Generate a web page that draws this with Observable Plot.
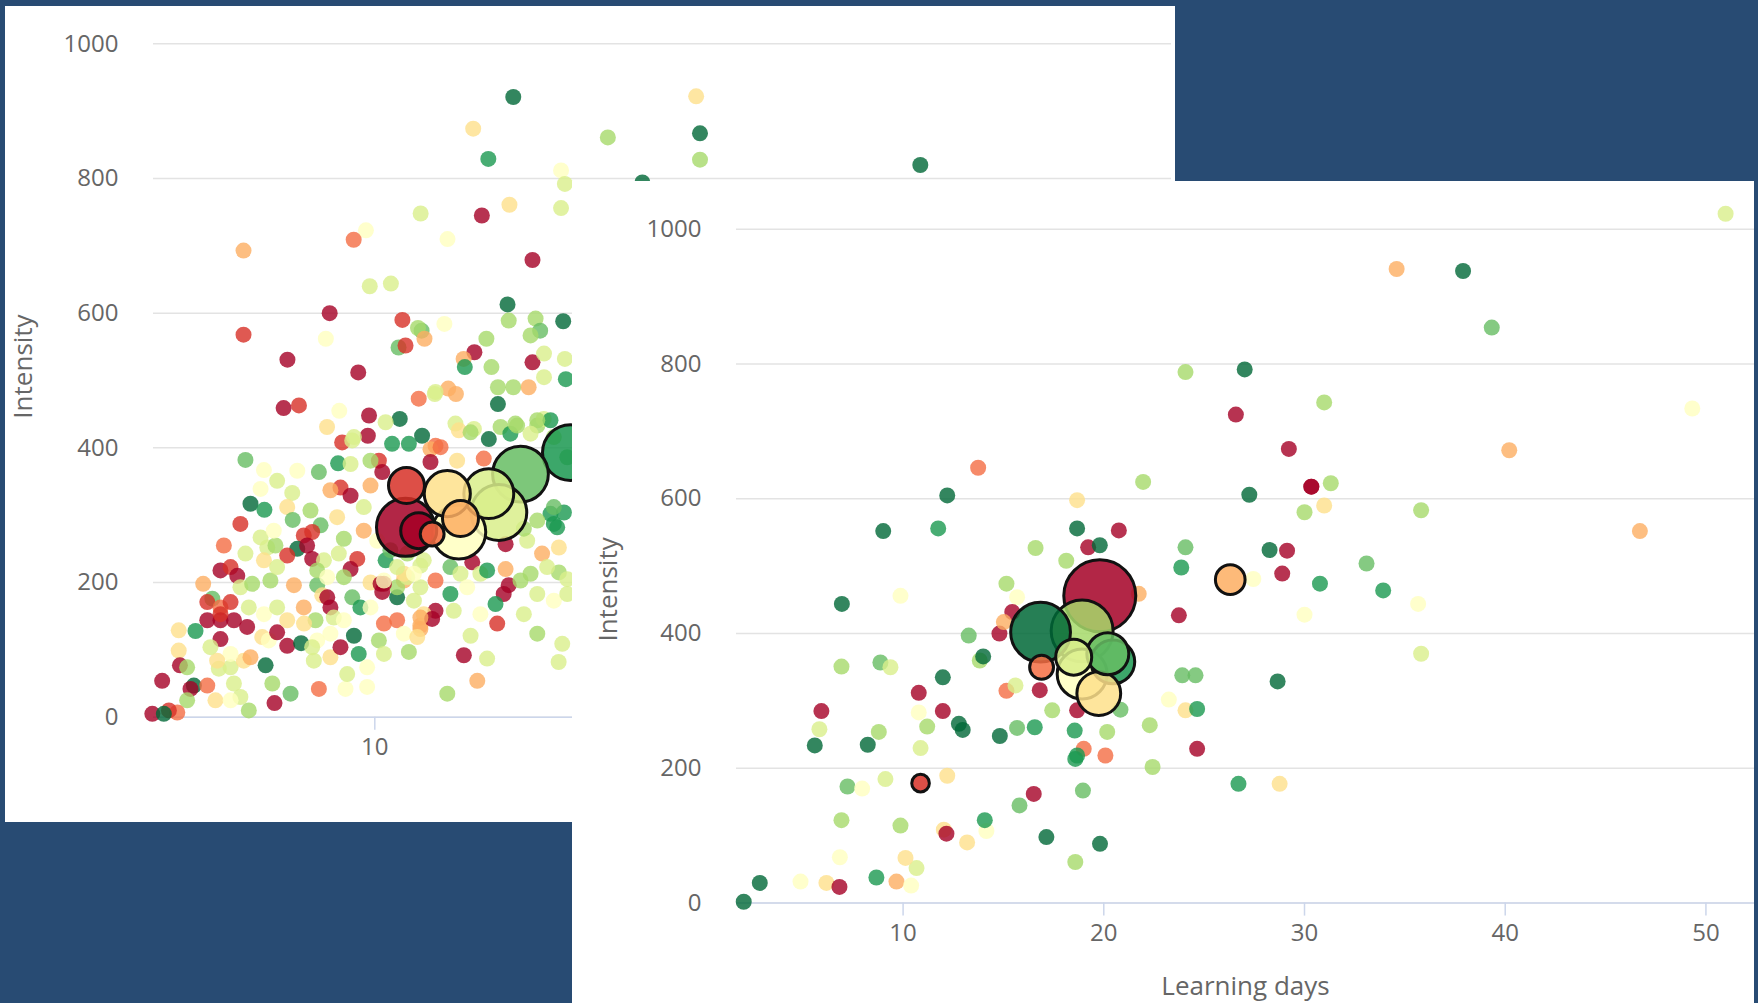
<!DOCTYPE html>
<html><head><meta charset="utf-8">
<script src="https://cdn.jsdelivr.net/npm/d3@7"></script>
<script src="https://cdn.jsdelivr.net/npm/@observablehq/plot@0.6"></script>
<style>
html,body{margin:0;padding:0;background:#284b73;width:1758px;height:1003px;overflow:hidden;}
.panel{position:absolute;background:#fff;overflow:hidden;}
#left{left:5px;top:6px;width:1170px;height:816px;}
#right{left:572px;top:181px;width:1182px;height:822px;}
.panel svg{display:block;max-width:none;}
</style></head><body>
<div id="left" class="panel"></div>
<div id="right" class="panel"></div>
<script>
// ---- shared axis values ----
const intensityTicks = [0, 200, 400, 600, 800, 1000];
const leftDayTicks = [10, 20, 30, 40];
const rightDayTicks = [10, 20, 30, 40, 50];
const scoreLevels = [0, 1, 2, 3, 4, 5, 6, 7, 8, 9, 10];
const scoreColors = d3.schemeRdYlGn[11];
const yLabel = "Intensity";
const xLabel = "Learning days";

// ---- right (front) chart: [learning days, intensity, score] ----
const rightDots = [
[2.06,2,10],[2.86,30,10],[4.89,32,5],[6.18,30,4],[6.83,24,0],[8.67,38,9],[9.67,32,3],[10.40,26,5],[10.67,52,6],[10.12,67,4],
[6.85,68,5],[6.93,123,7],[9.87,115,7],[12.03,109,4],[12.16,103,0],[13.19,90,4],[14.15,107,5],[14.07,123,9],[15.80,145,8],[16.51,162,0],
[7.23,173,8],[7.96,170,5],[9.12,184,6],[12.20,189,4],[5.60,234,10],[8.24,235,10],[8.79,254,7],[5.83,258,6],[5.93,285,0],[10.87,230,6],
[11.20,262,7],[10.78,283,5],[10.78,312,0],[11.98,285,0],[11.98,335,10],[12.78,266,10],[12.97,257,10],[14.82,248,10],[15.68,260,8],[16.56,261,9],
[6.93,351,7],[8.87,357,8],[9.37,350,6],[13.27,397,8],[13.82,360,7],[13.99,366,10],[15.15,315,2],[15.60,323,6],[14.80,400,0],
[13.74,646,2],[12.20,605,10],[9.01,552,10],[11.75,556,9],[9.87,456,5],[21.96,625,7],[18.67,598,4],[18.67,556,10],[20.75,553,0],[19.22,528,0],
[19.80,531,10],[16.60,527,7],[18.13,508,7],[24.07,528,8],[23.86,498,9],[15.15,474,7],[23.74,427,0],[15.68,454,5],[21.74,459,3],[15.44,432,0],
[15.02,417,3],[16.81,316,0],[18.67,286,0],[17.43,286,7],[18.55,256,9],[20.17,254,7],[20.83,287,8],[22.29,264,7],[23.91,338,8],[24.57,338,8],
[23.24,302,5],[24.07,286,4],[24.65,288,9],[19.0,229,2],[20.08,219,2],[18.67,219,9],[24.65,229,0],
[50.98,1023,6],[34.59,941,3],[37.90,938,10],[39.33,854,8],[24.07,788,7],[27.02,792,10],[26.58,725,0],[30.98,743,7],[29.22,674,0],[49.32,734,5],
[40.20,672,3],[30.34,618,0],[30.34,618,0],[31.31,623,7],[27.25,606,10],[30.00,580,7],[30.98,590,4],[35.81,583,7],[46.71,552,3],[28.26,524,10],
[29.13,523,0],[28.89,489,0],[33.09,504,8],[30.77,474,9],[33.92,464,9],[27.45,481,5],
[35.66,444,5],[30.0,428,5],[35.81,370,6],[28.66,329,10],[22.43,202,7],[26.71,177,9],[28.76,177,4],
[6.95,444,10],[17.14,98,10],[19.81,88,10],[18.58,61,7],[18.96,167,8],[18.58,214,9]
];
// highlighted groups: [learning days, intensity, score, learners]
const rightBubbles = [
[20.45,358,9,37],[20.2,370,8,34],[16.85,402,10,69],[18.92,404,7,74],[19.80,456,0,100],
[18.50,365,6,25],[18.92,340,5,48],[19.75,311,4,37],[16.90,350,2,11],[10.87,178,1,6],[26.3,480,3,17]
];

// ---- left (back) chart: [learning days, intensity, score] ----
const leftDots = [
[23.39,922,4],[23.55,867,10],[23.55,828,7],[19.71,861,7],[32.73,820,10],[21.15,794,10],
[15.77,921,10],[14.10,874,4],[14.73,829,9],[17.76,812,5],[17.92,792,6],[15.61,761,4],[14.46,745,0],[17.76,756,6],[11.91,748,6],[13.03,710,5],
[9.63,723,5],[9.12,709,2],[4.53,693,3],[16.57,679,0],[9.79,640,6],[10.67,644,6],[12.9,584,5],[8.12,600,0],[15.53,613,10],[15.58,589,7],
[16.70,592,7],[16.89,574,8],[17.85,588,10],[11.15,590,1],[4.53,568,1],[7.96,562,5],[11.95,574,8],[11.8,578,7],[12.07,562,3],[10.99,549,8],
[11.28,552,1],[14.65,562,7],[14.86,520,7],[14.15,542,0],[13.70,532,3],[13.75,520,9],[16.49,567,7],[16.57,527,0],[17.05,540,6],[17.05,505,6],
[17.92,532,6],[17.96,502,9],[6.36,531,0],[9.31,512,0],[6.20,459,0],[6.84,463,1],[11.83,473,2],[12.50,480,6],[13.06,488,3],[13.38,480,3],
[15.13,490,7],[15.77,490,7],[16.41,490,3],[15.13,465,10],[8.52,455,5],[9.76,448,0],[11.04,443,10],
[8.01,431,4],[9.71,418,0],[8.64,408,1],[9.13,416,6],[10.45,438,6],[10.72,406,9],[11.97,418,10],[12.53,403,2],[13.36,436,6],[13.50,426,4],
[14.13,428,6],[14.75,413,10],[15.24,431,7],[15.65,421,9],[15.93,433,7],[16.77,433,7],[17.04,443,6],[17.32,441,9],
[9.06,411,6],[11.42,406,9],[4.61,382,8],[5.38,367,5],[7.67,364,8],[8.47,377,9],[10.17,381,1],[10.31,364,0],[9.82,381,7],[5.24,339,5],
[6.56,333,6],[4.82,317,10],[5.40,308,9],[6.35,312,4],[6.58,293,8],[4.40,287,1],[8.57,341,1],[8.99,329,0],[8.15,337,3],[9.82,344,3],
[7.74,285,8],[3.71,255,2],[4.61,243,6],[5.52,252,6],[5.86,255,7],[5.38,233,4],[7.04,270,1],[7.39,275,1],[6.77,250,10],[7.18,255,0],
[7.39,235,0],[6.35,240,1],[7.88,233,6],[8.5,243,6],[9.27,235,1],[8.99,220,0],[8.71,265,7],[3.57,218,0],[3.99,223,1],[4.27,210,0],
[2.85,198,3],[3.23,176,8],[4.40,193,6],[4.89,198,7],[5.65,203,7],[6.63,196,3],[7.6,196,8],[7.81,181,4],[8.02,178,0],[8.15,163,0],
[7.04,163,3],[8.71,208,7],[9.06,178,8],[9.40,163,9],[9.82,200,4],[10.24,198,0],[10.31,186,0],[10.93,178,10],[11.9,193,6],[3.02,171,1],
[3.57,163,2],[3.99,171,1],[3.02,144,0],[3.57,144,0],[4.13,144,0],[4.68,134,0],[3.57,153,1],[2.53,128,9],[3.57,116,0],[1.83,129,4],
[1.83,99,4],[1.88,77,0],[1.14,54,0],[2.18,74,7],[2.46,47,10],[2.32,42,0],[3.02,47,2],[3.36,25,4],[3.50,72,6],[3.99,74,6],
[4.54,84,4],[4.82,89,3],[4.13,50,6],[4.40,30,6],[4.75,10,7],[2.18,25,7],[0.73,5,0],[1.77,7,2],[1.42,10,1],[1.21,5,10],
[5.45,77,10],[5.73,50,7],[6.49,35,8],[5.82,21,0],[5.31,119,4],[5.58,114,5],[5.93,126,0],[6.35,106,0],[6.93,110,10],[7.6,114,5],
[7.46,84,6],[8.15,89,4],[8.57,104,0],[9.13,121,10],[9.33,94,9],[7.67,42,2],[8.78,42,5],[9.68,45,5],[10.17,114,7],[10.38,139,2],
[10.93,144,2],[11.42,97,7],[11.9,136,3],
[12.53,483,6],[12.32,398,3],[12.74,401,2],[12.32,379,0],[13.43,381,4],[14.54,384,2],[13.99,423,7],[15.86,436,7],[16.77,441,7],[10.45,233,9],
[11.21,203,3],[10.93,193,7],[10.38,198,0],[11.9,225,6],[12.53,203,2],[13.15,223,8],[14.06,230,0],[14.4,213,6],[14.68,218,9],[15.45,257,0],
[15.58,196,0],[15.37,183,0],[15.03,168,9],[15.45,220,3],[16.35,262,6],[16.97,243,3],[17.67,252,4],[17.46,287,9],[17.88,304,9],[17.32,302,9],
[16.21,280,7],[17.67,215,7],[18.02,205,6],[16.49,213,7],[13.15,183,9],[12.53,158,0],[12.04,153,4],[11.9,131,3],[12.39,146,0],[13.29,158,6],
[15.1,139,1],[16.77,124,7],[17.81,109,6],[13.99,121,6],[14.68,87,6],[13.71,92,0],[14.27,54,3],[13.02,35,7],[17.66,82,6],
[5.24,267,6],[5.79,277,5],[5.93,223,6],[7.6,218,7],[8.02,208,5],[8.29,148,6],[8.71,144,5],[7.53,144,7],[7.05,139,4],[9.82,163,5],
[10.38,203,5],[11.35,208,6],[11.63,173,6],[11.9,148,3],[3.99,94,5],[3.43,84,4],[3.15,104,6],[4.75,163,6],[5.38,153,5],[5.93,163,6],
[6.35,144,4],[8.15,124,5],[7.39,104,6],[9.68,74,5],[8.85,64,6],[3.99,25,5],[10.38,94,6],[11.21,124,5],[6.77,366,5],[5.93,351,6],
[8.99,376,6],[9.54,312,6],[8.43,297,4],[7.32,307,7],[9.54,277,3],[10.1,262,5],[10.65,248,8],[11.35,243,7],[12.04,233,6],[11.21,213,4],
[10.93,223,6],[11.63,213,5],[13.57,213,6],[13.85,193,5],[16.07,203,7],[16.77,183,6],[17.46,173,5],[18.02,183,6],[16.21,153,6],[14.4,153,5],
[11.77,119,4],[16.49,421,6],[17.46,416,7],[18.02,386,8],[17.46,312,8],[16.77,292,7],[17.6,282,9],[17.18,223,6]
];
const leftBubbles = [
[18.15,393,9,60],[16.07,361,8,60],[15.17,304,6,60],[14.75,332,6,48],[13.02,332,4,41],[13.5,275,5,56],
[13.57,295,3,25],[12.39,272,2,11],[11.32,344,1,25],[11.28,282,0,65],[11.83,277,0,25]
];

const toDots = rows => rows.map(([day, intensity, score]) => ({day, intensity, score}));
const toBubbles = rows => rows.map(([day, intensity, score, learners]) => ({day, intensity, score, learners}));

function chart(o) {
  const marks = [
    Plot.gridY(intensityTicks, {stroke: "#e3e3e3", strokeOpacity: 1, strokeWidth: 1.5}),
    Plot.ruleY([0], {stroke: "#ccd6eb", strokeWidth: 1.5}),
    Plot.axisY(intensityTicks, {tickSize: 0, tickPadding: 35, fontSize: 24, fill: "#666", label: null, tickFormat: d => String(d)}),
    Plot.axisX(o.xTicks, {tickSize: 13, tickPadding: 8, fontSize: 24, stroke: "#ccd6eb", strokeWidth: 1.5, fill: "#666", label: null, tickFormat: d => String(d)}),
    Plot.dot(toDots(o.dots), {x: "day", y: "intensity", fill: "score", r: 8, fillOpacity: 0.8}),
    Plot.dot(toBubbles(o.bubbles), {x: "day", y: "intensity", fill: "score", r: "learners", fillOpacity: 0.85, stroke: "#111", strokeWidth: 3}),
    Plot.text([yLabel], {frameAnchor: "left", rotate: -90, dx: o.titleDx, dy: o.titleDy, fontSize: 26, fill: "#666", textAnchor: "middle", lineAnchor: "middle"})
  ];
  if (o.xTitle) marks.push(Plot.text([o.xTitle], {frameAnchor: "bottom", dy: o.xTitleDy, fontSize: 26, fill: "#666", textAnchor: "middle", lineAnchor: "middle"}));
  return Plot.plot({
    width: o.width, height: o.height,
    marginLeft: o.marginLeft, marginRight: o.marginRight, marginTop: o.marginTop, marginBottom: o.marginBottom,
    style: {fontFamily: "'Open Sans', sans-serif", background: "white", overflow: "visible"},
    x: {domain: o.xDomain},
    y: {domain: o.yDomain},
    color: {type: "ordinal", domain: scoreLevels, range: scoreColors},
    r: {type: "sqrt", domain: [0, 100], range: [0, 36]},
    marks
  });
}

document.getElementById("left").append(chart({
  dots: leftDots, bubbles: leftBubbles, xTicks: leftDayTicks,
  width: 1170, height: 816, marginLeft: 148, marginRight: 4, marginTop: 9.3, marginBottom: 105.3,
  xDomain: [0.779, 43.196], yDomain: [0, 1041.6], titleDx: -130, titleDy: 0
}));

document.getElementById("right").append(chart({
  dots: rightDots, bubbles: rightBubbles, xTicks: rightDayTicks,
  width: 1182, height: 822, marginLeft: 164, marginRight: 0, marginTop: 7.3, marginBottom: 100.4,
  xDomain: [1.70, 52.42], yDomain: [0, 1060], titleDx: -128, titleDy: 43.5,
  xTitle: xLabel, xTitleDy: 84
}));
</script>
</body></html>
